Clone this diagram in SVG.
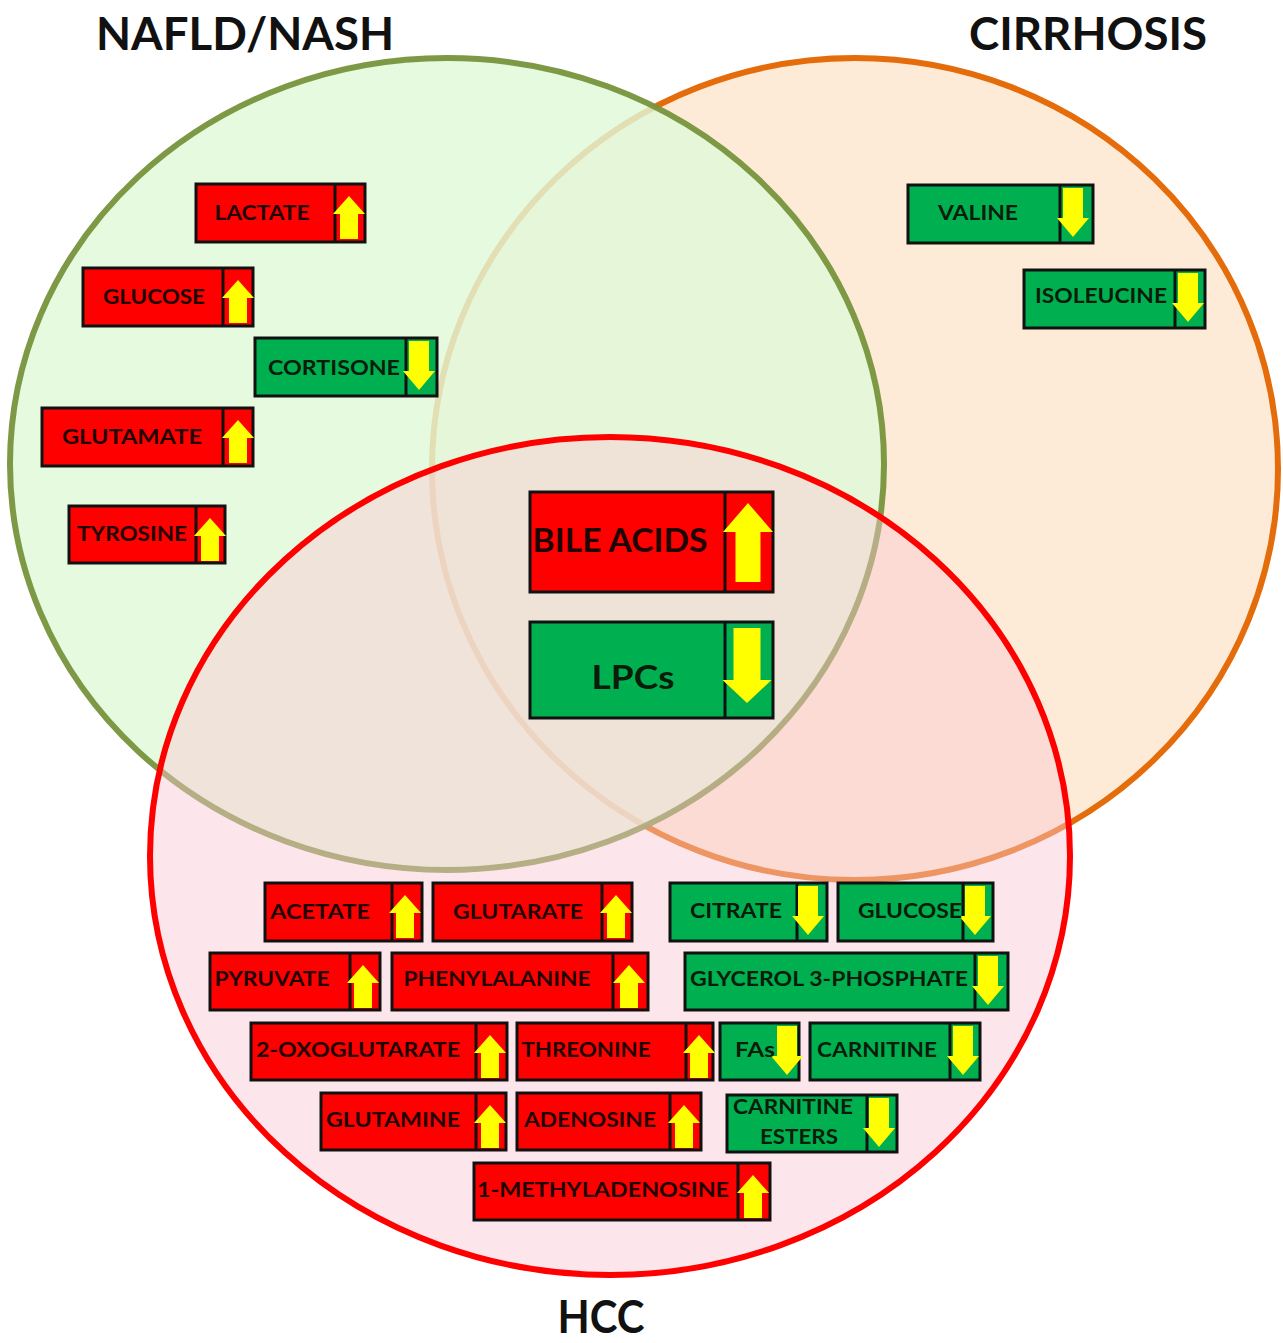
<svg xmlns="http://www.w3.org/2000/svg" xmlns:xlink="http://www.w3.org/1999/xlink" width="1283" height="1343" viewBox="0 0 1283 1343">
<style>
.title{font-family:Lato,"Open Sans","Liberation Sans",sans-serif;font-weight:700;font-size:46px;fill:#111;text-anchor:middle}
.t{font-family:Lato,"Open Sans","Liberation Sans",sans-serif;font-weight:700;font-size:21px;text-anchor:middle}
.tb{font-family:Lato,"Open Sans","Liberation Sans",sans-serif;font-weight:700;font-size:32px;text-anchor:middle;fill:#140404}
.r rect{fill:#FF0000;stroke:#111;stroke-width:3}
.g rect{fill:#00B050;stroke:#111;stroke-width:3}
.r text{fill:#1e0404}
.g text{fill:#0b1c0b}
.div{stroke:#111;stroke-width:3}
.arr{fill:#FFFF00}
</style>
<defs>
<path id="up" class="arr" d="M0,0 L16,18 L9,18 L9,43 L-9,43 L-9,18 L-16,18 Z"/>
<path id="dn" class="arr" d="M-10,0 L10,0 L10,30 L16,30 L0,49 L-16,30 L-10,30 Z"/>
<path id="upbig" class="arr" d="M0,0 L25,29 L12.5,29 L12.5,79 L-12.5,79 L-12.5,29 L-25,29 Z"/>
<path id="dnbig" class="arr" d="M-13.5,0 L13.5,0 L13.5,52 L24.5,52 L0,75 L-24.5,52 L-13.5,52 Z"/>
</defs>
<rect width="1283" height="1343" fill="#FFFFFF"/>

<g id="sets">
<ellipse id="cirrhosis-set" cx="855" cy="469" rx="423" ry="411" fill="#FDEBD7" stroke="#E46C0A" stroke-width="6"/>
<ellipse id="nafld-set" cx="447" cy="464" rx="437" ry="406" fill="#E0F9D9" fill-opacity="0.82" stroke="#77933C" stroke-width="6" stroke-opacity="0.95"/>
<ellipse id="hcc-set-fill" cx="610" cy="856" rx="460" ry="419" fill="#FAC8D2" fill-opacity="0.45"/>
<ellipse id="hcc-set" cx="610" cy="856" rx="460" ry="419" fill="none" stroke="#FF0000" stroke-width="6"/>
</g>

<g id="titles">
<text class="title" x="245" y="50" textLength="298" lengthAdjust="spacingAndGlyphs">NAFLD/NASH</text>
<text class="title" x="1088" y="50" textLength="238" lengthAdjust="spacingAndGlyphs">CIRRHOSIS</text>
<text class="title" x="601" y="1333" textLength="87" lengthAdjust="spacingAndGlyphs">HCC</text>
</g>

<g id="node-lactate" class="r"><rect x="196" y="184" width="169" height="58"/><line class="div" x1="335" y1="184" x2="335" y2="242"/><use href="#up" x="349" y="196"/><text class="t" x="262" y="220" textLength="95" lengthAdjust="spacingAndGlyphs">LACTATE</text></g>
<g id="node-glucose-nafld" class="r"><rect x="83" y="268" width="170" height="58"/><line class="div" x1="223" y1="268" x2="223" y2="326"/><use href="#up" x="238" y="280"/><text class="t" x="154" y="304" textLength="102" lengthAdjust="spacingAndGlyphs">GLUCOSE</text></g>
<g id="node-cortisone" class="g"><rect x="255" y="338" width="182" height="58"/><line class="div" x1="406" y1="338" x2="406" y2="396"/><use href="#dn" x="419" y="341"/><text class="t" x="334" y="375" textLength="132" lengthAdjust="spacingAndGlyphs">CORTISONE</text></g>
<g id="node-glutamate" class="r"><rect x="42" y="408" width="211" height="58"/><line class="div" x1="223" y1="408" x2="223" y2="466"/><use href="#up" x="238" y="420"/><text class="t" x="132" y="444" textLength="140" lengthAdjust="spacingAndGlyphs">GLUTAMATE</text></g>
<g id="node-tyrosine" class="r"><rect x="69" y="506" width="156" height="57"/><line class="div" x1="196" y1="506" x2="196" y2="563"/><use href="#up" x="210" y="518"/><text class="t" x="132" y="541" textLength="110" lengthAdjust="spacingAndGlyphs">TYROSINE</text></g>

<g id="node-valine" class="g"><rect x="908" y="185" width="185" height="58"/><line class="div" x1="1060" y1="185" x2="1060" y2="243"/><use href="#dn" x="1073" y="188"/><text class="t" x="978" y="220" textLength="80" lengthAdjust="spacingAndGlyphs">VALINE</text></g>
<g id="node-isoleucine" class="g"><rect x="1024" y="270" width="181" height="58"/><line class="div" x1="1175" y1="270" x2="1175" y2="328"/><use href="#dn" x="1188" y="273"/><text class="t" x="1101" y="303" textLength="132" lengthAdjust="spacingAndGlyphs">ISOLEUCINE</text></g>

<g id="node-bile-acids" class="r"><rect x="530" y="492" width="243" height="100"/><line class="div" x1="725" y1="492" x2="725" y2="592"/><use href="#upbig" x="748" y="503"/><text class="tb" x="620" y="552" textLength="175" lengthAdjust="spacingAndGlyphs">BILE ACIDS</text></g>
<g id="node-lpcs" class="g"><rect x="530" y="622" width="243" height="96"/><line class="div" x1="725" y1="622" x2="725" y2="718"/><use href="#dnbig" x="747" y="628"/><text class="tb" x="633" y="689" textLength="83" lengthAdjust="spacingAndGlyphs" style="fill:#0b1c0b">LPCs</text></g>

<g id="node-acetate" class="r"><rect x="265" y="883" width="157" height="58"/><line class="div" x1="392" y1="883" x2="392" y2="941"/><use href="#up" x="405" y="895"/><text class="t" x="320" y="919" textLength="100" lengthAdjust="spacingAndGlyphs">ACETATE</text></g>
<g id="node-glutarate" class="r"><rect x="433" y="883" width="199" height="58"/><line class="div" x1="602" y1="883" x2="602" y2="941"/><use href="#up" x="616" y="895"/><text class="t" x="518" y="919" textLength="130" lengthAdjust="spacingAndGlyphs">GLUTARATE</text></g>
<g id="node-citrate" class="g"><rect x="670" y="883" width="157" height="58"/><line class="div" x1="797" y1="883" x2="797" y2="941"/><use href="#dn" x="808" y="886"/><text class="t" x="736" y="918" textLength="92" lengthAdjust="spacingAndGlyphs">CITRATE</text></g>
<g id="node-glucose-hcc" class="g"><rect x="838" y="883" width="155" height="58"/><line class="div" x1="963" y1="883" x2="963" y2="941"/><use href="#dn" x="975" y="886"/><text class="t" x="910" y="918" textLength="104" lengthAdjust="spacingAndGlyphs">GLUCOSE</text></g>
<g id="node-pyruvate" class="r"><rect x="210" y="953" width="170" height="57"/><line class="div" x1="350" y1="953" x2="350" y2="1010"/><use href="#up" x="363" y="965"/><text class="t" x="272" y="986" textLength="115" lengthAdjust="spacingAndGlyphs">PYRUVATE</text></g>
<g id="node-phenylalanine" class="r"><rect x="392" y="953" width="256" height="57"/><line class="div" x1="613" y1="953" x2="613" y2="1010"/><use href="#up" x="629" y="965"/><text class="t" x="497" y="986" textLength="187" lengthAdjust="spacingAndGlyphs">PHENYLALANINE</text></g>
<g id="node-glycerol-3-phosphate" class="g"><rect x="685" y="953" width="323" height="57"/><line class="div" x1="975" y1="953" x2="975" y2="1010"/><use href="#dn" x="988" y="956"/><text class="t" x="829" y="986" textLength="278" lengthAdjust="spacingAndGlyphs">GLYCEROL 3-PHOSPHATE</text></g>
<g id="node-2-oxoglutarate" class="r"><rect x="251" y="1023" width="256" height="57"/><line class="div" x1="476" y1="1023" x2="476" y2="1080"/><use href="#up" x="490" y="1035"/><text class="t" x="358" y="1057" textLength="204" lengthAdjust="spacingAndGlyphs">2-OXOGLUTARATE</text></g>
<g id="node-threonine" class="r"><rect x="517" y="1023" width="196" height="57"/><line class="div" x1="686" y1="1023" x2="686" y2="1080"/><use href="#up" x="699" y="1035"/><text class="t" x="586" y="1057" textLength="129" lengthAdjust="spacingAndGlyphs">THREONINE</text></g>
<g id="node-fas" class="g"><rect x="720" y="1023" width="79" height="57"/><use href="#dn" x="787" y="1026"/><text class="t" x="755" y="1057" textLength="40" lengthAdjust="spacingAndGlyphs">FAs</text></g>
<g id="node-carnitine" class="g"><rect x="810" y="1023" width="170" height="57"/><line class="div" x1="950" y1="1023" x2="950" y2="1080"/><use href="#dn" x="963" y="1026"/><text class="t" x="877" y="1057" textLength="120" lengthAdjust="spacingAndGlyphs">CARNITINE</text></g>
<g id="node-glutamine" class="r"><rect x="321" y="1093" width="185" height="57"/><line class="div" x1="476" y1="1093" x2="476" y2="1150"/><use href="#up" x="490" y="1105"/><text class="t" x="393" y="1127" textLength="134" lengthAdjust="spacingAndGlyphs">GLUTAMINE</text></g>
<g id="node-adenosine" class="r"><rect x="517" y="1093" width="184" height="57"/><line class="div" x1="670" y1="1093" x2="670" y2="1150"/><use href="#up" x="684" y="1105"/><text class="t" x="590" y="1127" textLength="132" lengthAdjust="spacingAndGlyphs">ADENOSINE</text></g>
<g id="node-carnitine-esters" class="g"><rect x="727" y="1095" width="170" height="57"/><line class="div" x1="867" y1="1095" x2="867" y2="1152"/><use href="#dn" x="879" y="1098"/><text class="t" x="793" y="1114" textLength="120" lengthAdjust="spacingAndGlyphs">CARNITINE</text><text class="t" x="799" y="1144" textLength="78" lengthAdjust="spacingAndGlyphs">ESTERS</text></g>
<g id="node-1-methyladenosine" class="r"><rect x="474" y="1163" width="296" height="57"/><line class="div" x1="738" y1="1163" x2="738" y2="1220"/><use href="#up" x="753" y="1175"/><text class="t" x="603" y="1197" textLength="252" lengthAdjust="spacingAndGlyphs">1-METHYLADENOSINE</text></g>
</svg>
